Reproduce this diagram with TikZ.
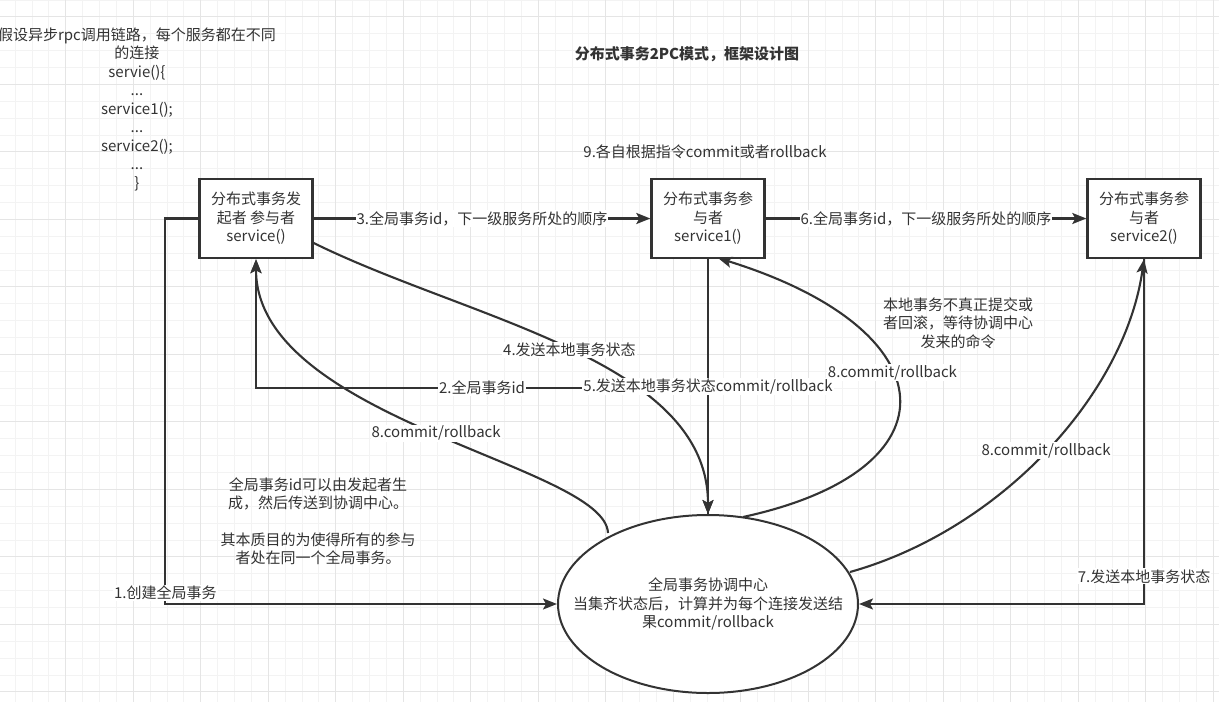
\documentclass[tikz,border=0pt]{standalone}
\usepackage{fontspec}
\setmainfont{Noto Sans CJK SC}
\usetikzlibrary{arrows.meta,shapes.geometric}
\definecolor{inkgray}{HTML}{333333}
\definecolor{gridminor}{HTML}{F3F3F3}
\definecolor{gridmajor}{HTML}{E5E5E5}

\begin{document}
\begin{tikzpicture}[x=1pt,y=-1pt,
  font=\fontsize{15}{18.5}\selectfont,
  every node/.style={text=inkgray},
  svcbox/.style={draw=inkgray, line width=2.4pt, fill=white, minimum width=113pt, minimum height=79pt, align=center, inner sep=2pt},
  hubnode/.style={ellipse, draw=inkgray, line width=2pt, fill=white, minimum width=300pt, minimum height=178pt},
  link/.style={draw=inkgray, line width=2.1pt},
  lbl/.style={fill=white, inner sep=1pt},
  >={Stealth[length=14pt,width=11pt,inset=3pt]}
]
\useasboundingbox (0,0) rectangle (1219,702);
\fill[white] (0,0) rectangle (1219,702);

% Background grid
\foreach \i in {0,...,71} \draw[gridminor, line width=1pt] ({15.2+16.875*\i},0) -- ++(0,702);
\foreach \j in {0,...,41} \draw[gridminor, line width=1pt] (0,{16.875*\j}) -- ++(1219,0);
\foreach \i in {3,7,...,71} \draw[gridmajor, line width=1pt] ({15.2+16.875*\i},0) -- ++(0,702);
\foreach \j in {1,5,...,41} \draw[gridmajor, line width=1pt] (0,{16.875*\j}) -- ++(1219,0);

% Notes and title
\node[align=center] (chain) at (137,109) {假设异步rpc调用链路，每个服务都在不同\\的连接\\servie()\{\\...\\service1();\\...\\service2();\\...\\\}};
\node[font=\fontsize{15}{18}\selectfont\bfseries] (title) at (687,54) {分布式事务2PC模式，框架设计图};
\node (step9) at (705,152) {9.各自根据指令commit或者rollback};
\node[align=center] (idnote) at (318,521) {全局事务id可以由发起者生\\成，然后传送到协调中心。\\[18pt]其本质目的为使得所有的参与\\者处在同一个全局事务。};
\node[align=center] (waitnote) at (958,323) {本地事务不真正提交或\\者回滚，等待协调中心\\发来的命令};

% Services and coordinator
\node[svcbox] (svc0) at (256,218.5) {分布式事务发\\起者 参与者\\service()};
\node[svcbox] (svc1) at (708,218.5) {分布式事务参\\与者\\service1()};
\node[svcbox] (svc2) at (1144,218.5) {分布式事务参\\与者\\service2()};
\node[hubnode] (hub) at (708,604) {};
\node[align=center] (hubtext) at (hub.center) {全局事务协调中心\\当集齐状态后，计算并为每个连接发送结\\果commit/rollback};
\coordinate (turn2) at (708,388);

% Call chain
\draw[link, ->] (svc0.east) -- node[lbl] {3.全局事务id，下一级服务所处的顺序} (svc1.west);
\draw[link, ->] (svc1.east) -- node[lbl] {6.全局事务id，下一级服务所处的顺序} (svc2.west);

% Orthogonal links
\draw[link, ->] (svc0.west) -- ++(-33,0) |- node[lbl, pos=0.486] {1.创建全局事务} (hub.west);
\draw[link, ->] (svc2.south) |- node[lbl, pos=0.46] {7.发送本地事务状态} (hub.east);
\draw[link, ->] (hub.north) -- (turn2) -| node[lbl, pos=0.25] {2.全局事务id} (svc0.south);

% Curved links
\draw[link, ->] (svc0.east |- 0,243) .. controls (470,320) and (708,360) .. node[lbl, pos=0.5] {4.发送本地事务状态} (hub.north);
\draw[link, ->] (608,533) .. controls (605,465) and (256,420) .. node[lbl, pos=0.49] {8.commit/rollback} (svc0.south);
\draw[link, ->] (743,517) .. controls (960,470) and (950,330) .. node[lbl, pos=0.58] {8.commit/rollback} (718,258);
\draw[link, ->] (850,572) .. controls (1000,530) and (1125,395) .. node[lbl, pos=0.5] {8.commit/rollback} (svc2.south);
\draw[link, ->] (svc1.south) -- node[lbl] {5.发送本地事务状态commit/rollback} (hub.north);
\end{tikzpicture}
\end{document}
